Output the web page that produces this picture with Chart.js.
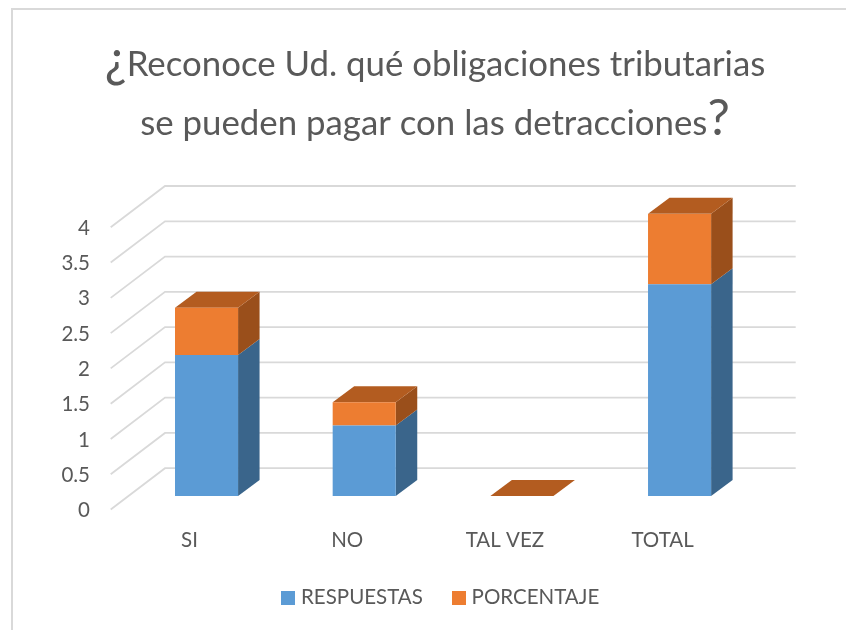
<!DOCTYPE html>
<html><head><meta charset="utf-8">
<style>html,body{margin:0;padding:0;background:#fff}#w{position:absolute;left:0;top:0;width:846px;height:630px}</style>
<script src="https://cdn.jsdelivr.net/npm/chart.js@4"></script></head>
<body><div id="w"><canvas id="c" width="846" height="630"></canvas></div>
<script>
const categories = ["SI", "NO", "TAL VEZ", "TOTAL"];
const respuestas = [2, 1, 0, 3];
const porcentaje = [0.67, 0.33, 0, 1];
const seriesNames = ["RESPUESTAS", "PORCENTAJE"];
const seriesColors = ["#5B9BD5", "#ED7D31"];
const titleLines = [["¿", "Reconoce Ud. qué obligaciones tributarias"], ["se pueden pagar con las detracciones", "?"]];

const FONT = 'Lato';
const TEXT = "#595959";
const BAR_SHIFT = {x: 17, y: -13.5};
const BAR_DEPTH = {x: 21.5, y: -16};
const WALL = {x: 54.3, y: -41.3};
const SIDE = ["#3A658B", "#9A4F1B"];
const TOP = ["#3F6E98", "#B35C20"];

function poly(ctx, pts, fill) {
  ctx.fillStyle = fill;
  ctx.beginPath();
  pts.forEach((p, i) => i ? ctx.lineTo(p[0], p[1]) : ctx.moveTo(p[0], p[1]));
  ctx.closePath();
  ctx.fill();
}

function swatch(color) {
  const c = document.createElement("canvas");
  c.width = 14; c.height = 14;
  const g = c.getContext("2d");
  g.fillStyle = color;
  g.fillRect(0, 0, 14, 14);
  return c;
}
const swatches = seriesColors.map(swatch);

const scene = {
  id: "scene",
  afterLayout(chart) {
    const l = chart.legend;
    const w = l.right - l.left;
    l.left = 442.5 - w / 2;
    l.right = l.left + w;
    l.top = 554;
    l.bottom = 630;
  },
  beforeDraw(chart) {
    const ctx = chart.ctx;
    ctx.save();
    ctx.strokeStyle = "#d9d9d9";
    ctx.lineWidth = 2;
    ctx.beginPath();
    ctx.moveTo(12, 630); ctx.lineTo(12, 9); ctx.lineTo(846, 9);
    ctx.stroke();
    ctx.fillStyle = TEXT;
    ctx.textBaseline = "alphabetic";
    ctx.textAlign = "left";
    const big = "50px " + FONT, small = "34.8px " + FONT;
    [[76, titleLines[0], [big, small]], [135, titleLines[1], [small, big]]].forEach(([y, parts, fonts]) => {
      ctx.font = fonts[0]; const a = ctx.measureText(parts[0]).width;
      ctx.font = fonts[1]; const b = ctx.measureText(parts[1]).width;
      let x = 435 - (a + b) / 2;
      ctx.font = fonts[0]; ctx.fillText(parts[0], x, y);
      ctx.font = fonts[1]; ctx.fillText(parts[1], x + a, y);
    });
    ctx.restore();
  },
  beforeDatasetsDraw(chart) {
    const ctx = chart.ctx, ys = chart.scales.y, xs = chart.scales.x;
    ctx.save();
    ctx.strokeStyle = "#d9d9d9";
    ctx.lineWidth = 1.8;
    ys.ticks.forEach(t => {
      const y = ys.getPixelForValue(t.value);
      ctx.beginPath();
      ctx.moveTo(xs.left, y);
      ctx.lineTo(xs.left + WALL.x, y + WALL.y);
      ctx.lineTo(xs.right + WALL.x, y + WALL.y);
      ctx.stroke();
    });
    ctx.translate(BAR_SHIFT.x, BAR_SHIFT.y);
    chart.data.datasets.forEach((ds, d) => {
      chart.getDatasetMeta(d).data.forEach(b => {
        const r = b.x + b.width / 2, l = b.x - b.width / 2, dx = BAR_DEPTH.x, dy = BAR_DEPTH.y;
        if (b.base > b.y) poly(ctx, [[r, b.base], [r + dx, b.base + dy], [r + dx, b.y + dy], [r, b.y]], SIDE[d]);
        if (d === 1) poly(ctx, [[l, b.y], [l + dx, b.y + dy], [r + dx, b.y + dy], [r, b.y]], TOP[d]);
      });
    });
    ctx.restore();
  },
  beforeDatasetDraw(chart) {
    chart.ctx.save();
    chart.ctx.translate(BAR_SHIFT.x, BAR_SHIFT.y);
  },
  afterDatasetDraw(chart) {
    chart.ctx.restore();
  }
};

new Chart(document.getElementById("c"), {
  type: "bar",
  data: {
    labels: categories,
    datasets: [
      {label: seriesNames[0], data: respuestas, backgroundColor: seriesColors[0], borderWidth: 0},
      {label: seriesNames[1], data: porcentaje, backgroundColor: seriesColors[1], borderWidth: 0}
    ]
  },
  plugins: [scene],
  options: {
    responsive: false,
    animation: false,
    layout: {padding: {left: 20, right: 104.6, top: 227.3, bottom: 8.5}},
    scales: {
      x: {
        stacked: true,
        grid: {display: false, drawTicks: false},
        border: {display: false},
        ticks: {color: TEXT, font: {family: FONT, size: 20.5}, padding: 19},
        afterFit(s) { s.height = 48; }
      },
      y: {
        stacked: true,
        min: 0, max: 4,
        grid: {display: false, drawTicks: false},
        border: {display: false},
        ticks: {color: TEXT, font: {family: FONT, size: 20.5}, stepSize: 0.5, padding: 20.7, labelOffset: 1, callback: v => String(v)},
        afterFit(s) { s.width = 90.7; }
      }
    },
    datasets: {bar: {barPercentage: 1, categoryPercentage: 0.4}},
    plugins: {
      title: {display: false},
      tooltip: {enabled: false},
      legend: {
        position: "bottom",
        labels: {
          color: TEXT, font: {family: FONT, size: 20.5},
          usePointStyle: true, pointStyleWidth: 5, boxHeight: 14, padding: 33.5,
          generateLabels(chart) {
            return Chart.defaults.plugins.legend.labels.generateLabels(chart).map((it, i) => {
              it.pointStyle = swatches[i];
              return it;
            });
          }
        }
      }
    }
  }
});
</script></body></html>
